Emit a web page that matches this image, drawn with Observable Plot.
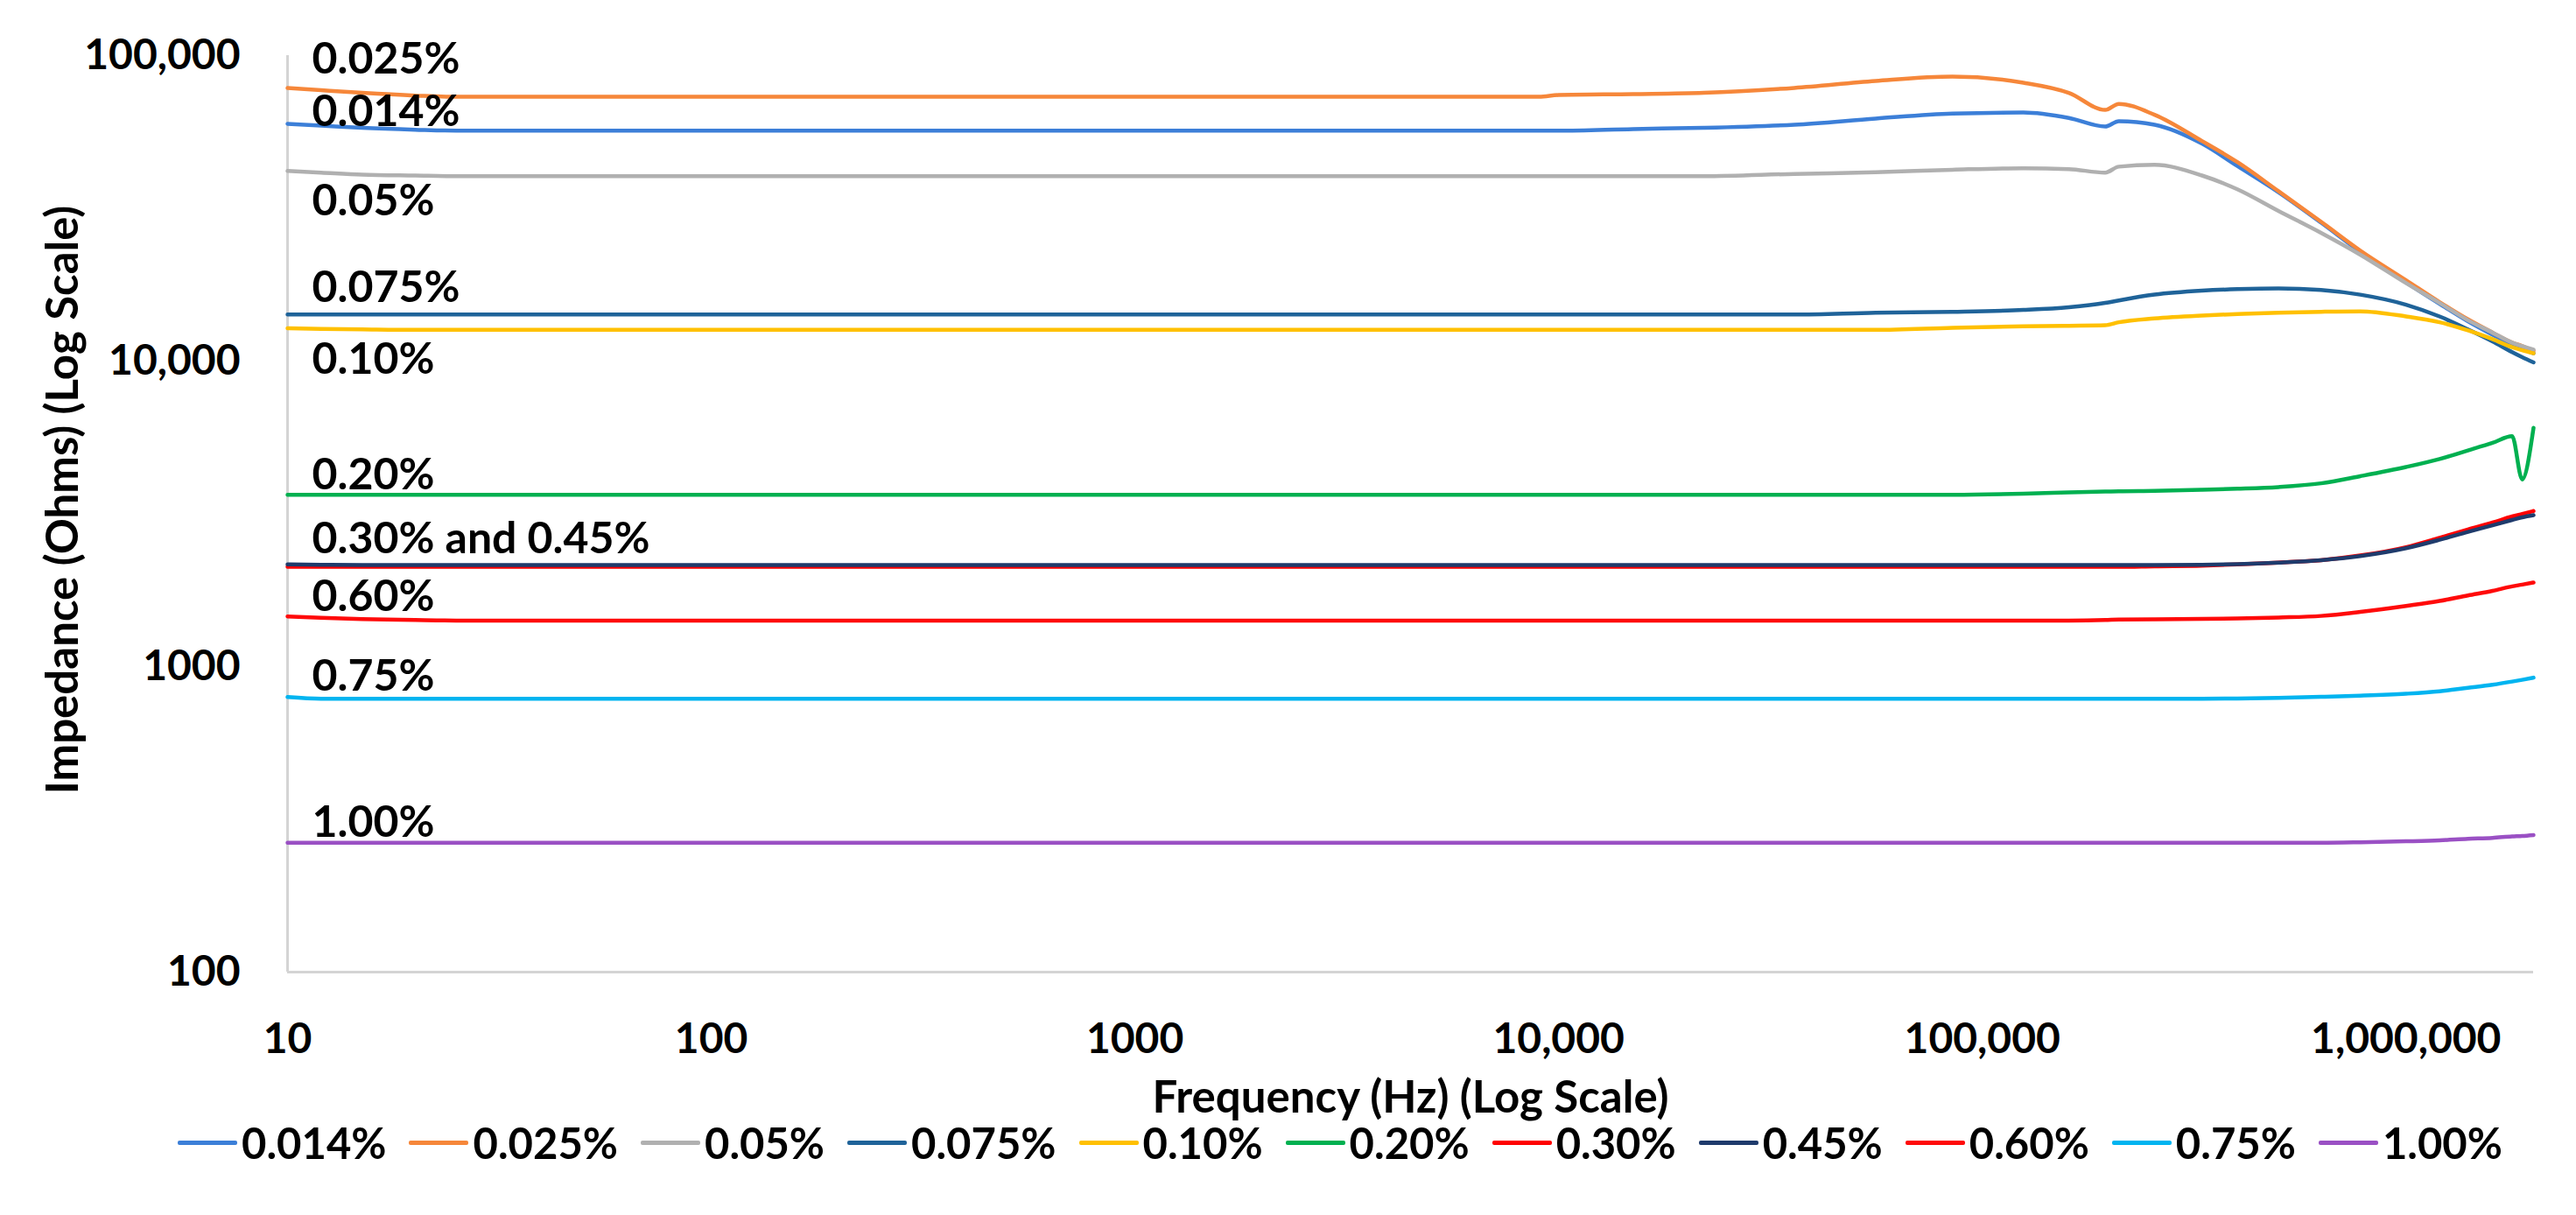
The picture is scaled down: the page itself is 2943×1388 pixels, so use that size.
<!DOCTYPE html>
<html>
<head>
<meta charset="utf-8">
<script src="https://cdn.jsdelivr.net/npm/d3@7"></script>
<script src="https://cdn.jsdelivr.net/npm/@observablehq/plot@0.6"></script>
<style>
  html, body { margin: 0; padding: 0; background: #fff; }
  body { width: 2943px; height: 1388px; overflow: hidden; font-family: Lato, "Open Sans", sans-serif; }
  #chart svg { display: block; }
  #legend { display: flex; align-items: center; height: 40px; margin-top: 5px; padding-left: 203px; font-weight: bold; font-size: 49px; line-height: 40px; color: #000; }
  #legend .item { display: flex; align-items: center; margin-right: 26px; }
  #legend .sw { width: 68px; height: 5px; margin-right: 5px; border-radius: 2px; }
</style>
</head>
<body>
<div id="chart"></div>
<div id="legend"></div>
<script>
// Frequency grid (Hz)
const freq = [10, 12, 15, 20, 25, 1000, 9000, 10000, 15000, 22000, 36000, 56000, 85000, 125000, 160000, 195000, 210000, 255000, 330000, 400000, 500000, 630000, 780000, 1000000, 1200000, 1400000, 1600000, 1780000, 1880000, 2000000];

// Impedance (Ohms) per concentration
const s014 = [59800, 59000, 58000, 57200, 56800, 56800, 56800, 56800, 57500, 58000, 59400, 62200, 64600, 65100, 62500, 58600, 61000, 59400, 51500, 43500, 35700, 28400, 22800, 18100, 15400, 13500, 12200, 11300, 11000, 10600];
const s025 = [78300, 77000, 75500, 74000, 73300, 73300, 73300, 74300, 74800, 75500, 78400, 82600, 85300, 81500, 75500, 66400, 69500, 64000, 52500, 44800, 36000, 28600, 23000, 18400, 15600, 13700, 12400, 11500, 11200, 10800];
const s050 = [41900, 41400, 40800, 40500, 40300, 40300, 40300, 40300, 40300, 40300, 41000, 41500, 42300, 42800, 42500, 41400, 43300, 43900, 40500, 36500, 31000, 26300, 22300, 18000, 15500, 13600, 12400, 11500, 11200, 10900];
const s075 = [14200, 14200, 14200, 14200, 14200, 14200, 14200, 14200, 14200, 14200, 14200, 14400, 14500, 14700, 15000, 15500, 15800, 16500, 17000, 17200, 17300, 17100, 16500, 15300, 14000, 12700, 11600, 10700, 10300, 9900];
const s100 = [12800, 12750, 12700, 12650, 12650, 12650, 12650, 12650, 12650, 12650, 12650, 12650, 12850, 13000, 13050, 13100, 13400, 13800, 14100, 14250, 14400, 14500, 14550, 14000, 13400, 12600, 11800, 11100, 10850, 10600];
const s200 = [3650, 3650, 3650, 3650, 3650, 3650, 3650, 3650, 3650, 3650, 3650, 3650, 3650, 3680, 3720, 3740, 3750, 3760, 3790, 3820, 3870, 3980, 4200, 4500, 4780, 5100, 5400, 5680, 4100, 6050];
const s300 = [2120, 2120, 2120, 2120, 2120, 2120, 2120, 2120, 2120, 2120, 2120, 2120, 2120, 2120, 2120, 2120, 2120, 2130, 2140, 2160, 2190, 2230, 2310, 2460, 2640, 2810, 2960, 3100, 3160, 3230];
const s450 = [2160, 2155, 2150, 2150, 2150, 2150, 2150, 2150, 2150, 2150, 2150, 2150, 2150, 2150, 2150, 2150, 2150, 2150, 2155, 2165, 2190, 2230, 2300, 2440, 2600, 2760, 2900, 3020, 3080, 3130];
const s600 = [1460, 1445, 1430, 1420, 1415, 1415, 1415, 1415, 1415, 1415, 1415, 1415, 1415, 1415, 1415, 1420, 1425, 1428, 1432, 1438, 1448, 1465, 1510, 1580, 1640, 1710, 1770, 1830, 1855, 1885];
const s750 = [795, 785, 785, 785, 785, 785, 785, 785, 785, 785, 785, 785, 785, 785, 785, 785, 785, 785, 785, 786, 790, 796, 803, 815, 830, 852, 872, 893, 905, 920];
const s1000 = [265, 265, 265, 265, 265, 265, 265, 265, 265, 265, 265, 265, 265, 265, 265, 265, 265, 265, 265, 265, 265, 265, 266, 268, 270, 273, 275, 278, 279, 281];

const seriesNames = ["0.014%", "0.025%", "0.05%", "0.075%", "0.10%", "0.20%", "0.30%", "0.45%", "0.60%", "0.75%", "1.00%"];
const seriesValues = [s014, s025, s050, s075, s100, s200, s300, s450, s600, s750, s1000];
const seriesColors = ["#3c7fd8", "#f6873a", "#b0b0b0", "#1f6399", "#ffc000", "#00b050", "#ff0000", "#1f3b6c", "#ff0a0a", "#00b4f0", "#9a50c4"];

// In-plot annotations
const labelText = ["0.025%", "0.014%", "0.05%", "0.075%", "0.10%", "0.20%", "0.30% and 0.45%", "0.60%", "0.75%", "1.00%"];
const labelY = [96800, 65200, 33300, 17300, 10070, 4220, 2620, 1690, 929, 309];

// Ticks
const xTicks = [10, 100, 1000, 10000, 100000, 1000000];
const xTickLabels = ["10", "100", "1000", "10,000", "100,000", "1,000,000"];
const yTicks = [100, 1000, 10000, 100000];
const yTickLabels = ["100", "1000", "10,000", "100,000"];

const xTitle = "Frequency (Hz) (Log Scale)";
const yTitle = "Impedance (Ohms) (Log Scale)";

const rows = seriesNames.flatMap((name, k) => freq.map((f, i) => ({f, z: seriesValues[k][i], name})));
const labels = labelText.map((t, i) => ({t, x: freq[0], y: labelY[i]}));

const chart = Plot.plot({
  width: 2943,
  height: 1280,
  marginLeft: 328,
  marginRight: 49,
  marginTop: 63,
  marginBottom: 170,
  style: {fontFamily: "Lato, 'Open Sans', sans-serif", fontSize: "48px", fontWeight: "bold", color: "#000", background: "#fff", overflow: "visible"},
  x: {type: "log", domain: [10, 2000000], ticks: xTicks, tickFormat: d => xTickLabels[xTicks.indexOf(d)], tickSize: 0, tickPadding: 58, label: null},
  y: {type: "log", domain: [100, 100000], ticks: yTicks, tickFormat: d => yTickLabels[yTicks.indexOf(d)], tickSize: 0, tickPadding: 54, label: null},
  color: {domain: seriesNames, range: seriesColors},
  marks: [
    Plot.ruleX([10], {stroke: "#d4d4d4", strokeWidth: 3}),
    Plot.ruleY([100], {stroke: "#d4d4d4", strokeWidth: 3}),
    Plot.line(rows, {x: "f", y: "z", z: "name", stroke: "name", strokeWidth: 4.5, curve: "monotone-x"}),
    Plot.text(labels, {x: "x", y: "y", text: "t", textAnchor: "start", dx: 28, fill: "#000", fontSize: 50}),
    Plot.text([xTitle], {frameAnchor: "bottom", lineAnchor: "middle", textAnchor: "middle", dy: 144, text: d => d, fill: "#000", fontSize: 51}),
    Plot.text([yTitle], {frameAnchor: "left", lineAnchor: "middle", textAnchor: "middle", dx: -256, dy: -16, rotate: -90, text: d => d, fill: "#000", fontSize: 51})
  ]
});
document.getElementById("chart").appendChild(chart);

const legend = document.getElementById("legend");
seriesNames.forEach((name, k) => {
  const item = document.createElement("div");
  item.className = "item";
  const sw = document.createElement("div");
  sw.className = "sw";
  sw.style.background = seriesColors[k];
  const tx = document.createElement("span");
  tx.textContent = name;
  item.appendChild(sw);
  item.appendChild(tx);
  legend.appendChild(item);
});
</script>
</body>
</html>
